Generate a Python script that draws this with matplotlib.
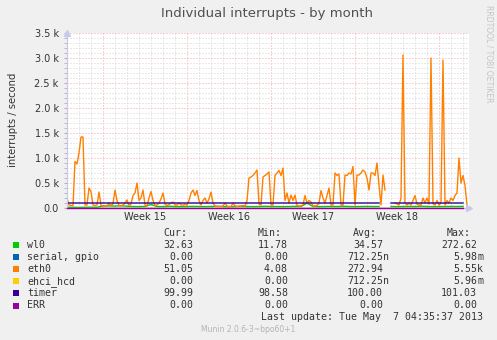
import numpy as np
import matplotlib
matplotlib.use("Agg")
from matplotlib import pyplot as plt
from matplotlib.patches import Rectangle

# eth0 interrupts/s, one sample every 4 hours (nan = no data)
eth0 = [200, 60, 50, 50, 930, 880, 1100, 1420, 1420, 60,
        60, 400, 330, 60, 50, 60, 320, 50, 40, 40,
        40, 100, 50, 80, 360, 150, 50, 40, 60, 100,
        160, 50, 80, 250, 300, 500, 150, 200, 360, 60,
        40, 200, 330, 150, 50, 60, 100, 180, 300, 80,
        50, 70, 100, 120, 60, 60, 100, 60, 60, 70,
        60, 150, 300, 360, 250, 350, 150, 60, 150, 200,
        100, 180, 320, 100, 40, 30, 30, 30, 40, 100,
        40, 30, 30, 100, 40, 30, 40, 40, 50, 40,
        150, 600, 620, 650, 700, 760, 80, 60, 620, 650,
        680, 720, 60, 60, 650, 700, 750, 650, 800, 150,
        300, 100, 260, 150, 260, 50, 40, 40, 60, 250,
        100, 150, 120, 40, 40, 50, 100, 350, 200, 100,
        250, 400, 60, 60, 700, 650, 680, 60, 60, 660,
        650, 700, 680, 830, 60, 660, 660, 700, 760, 720,
        600, 360, 700, 700, 650, 900, 450, 60, 660, 360,
        np.nan, np.nan, np.nan, np.nan, 100, 80, 60, 200, 3060, 100,
        60, 100, 60, 150, 250, 80, 60, 60, 200, 100,
        200, 80, 3000, 80, 60, 150, 60, 100, 2960, 60,
        150, 100, 200, 150, 250, 300, 1000, 500, 650, 450,
        60]

# wl0 and timer, one sample every 12 hours
wl0 = [15, 14, 12, 15, 16, 15, 40, 42, 38, 45,
       35, 30, 28, 32, 70, 30, 28, 35, 30, 28,
       30, 32, 30, 28, 30, 35, 30, 25, 30, 32,
       30, 28, 30, 35, 30, 30, 28, 30, 32, 30,
       100, 30, 28, 30, 32, 30, 35, 30, 28, 30,
       32, 30, 30, np.nan, 30, 28, 30, 32, 30, 35,
       30, 28, 30, 30, 32, 30, 33]
timer = [100.2, 99.9, 100.0, 100.1, 99.8, 100.0, 100.1, 100.0, 99.9, 100.2,
         100.0, 99.9, 100.1, 100.0, 100.0, 99.8, 100.1, 100.0, 100.0, 99.9,
         100.1, 100.0, 99.9, 100.0, 100.2, 100.0, 99.9, 100.0, 100.1, 100.0,
         99.9, 100.0, 100.1, 100.0, 100.0, 99.9, 100.0, 100.1, 100.0, 99.9,
         100.0, 100.1, 100.0, 99.9, 100.0, 100.0, 100.1, 100.0, 99.9, 100.0,
         100.1, 100.0, 99.9, np.nan, 100.0, 100.1, 100.0, 99.9, 100.0, 100.0,
         100.1, 100.0, 99.9, 100.0, 100.0, 100.1, 99.99]

weeks = ['Week 15', 'Week 16', 'Week 17', 'Week 18']
week_start = [3, 10, 17, 24, 31]   # days from left edge

names = ['wl0', 'serial, gpio', 'eth0', 'ehci_hcd', 'timer', 'ERR']
colors = ['#00CC00', '#0066B3', '#FF8000', '#FFCC00', '#330099', '#990099']
cur = ['32.63', '0.00', '51.05', '0.00', '99.99', '0.00']
mins = ['11.78', '0.00', '4.08', '0.00', '98.58', '0.00']
avgs = ['34.57', '712.25n', '272.94', '712.25n', '100.00', '0.00']
maxs = ['272.62', '5.98m', '5.55k', '5.96m', '101.03', '0.00']

W, H = 497, 340
fig = plt.figure(figsize=(W / 100, H / 100), dpi=100, facecolor='#F0F0F0')
ax = fig.add_axes([67 / W, 1 - 208 / H, (469 - 67) / W, (208 - 33) / H])
ax.set_facecolor('white')

t_eth = np.arange(len(eth0)) / 6.0
t_half = np.arange(len(wl0)) * 0.5
zeros = np.zeros(len(wl0))

ax.plot(t_half, wl0, color=colors[0], lw=1)
ax.plot(t_half, zeros, color=colors[1], lw=1)
ax.plot(t_eth, eth0, color=colors[2], lw=1)
ax.plot(t_half, zeros, color=colors[3], lw=1)
ax.plot(t_half, timer, color=colors[4], lw=1)
ax.plot(t_half, zeros, color=colors[5], lw=1, clip_on=False, zorder=5)

ax.set_xlim(0, 33.5)
ax.set_ylim(0, 3500)

# grid: gray daily / 100, red weekly / 500
ax.set_xticks(week_start)
ax.set_xticks(np.arange(0, 34), minor=True)
ax.set_yticks(np.arange(0, 3501, 500))
ax.set_yticks(np.arange(0, 3501, 100), minor=True)
ax.grid(which='minor', color='#d4d4d4', lw=0.72, ls=(0, (1, 2)))
ax.grid(which='major', color='#f0a8a8', lw=0.72, ls=(0, (1, 2)))
ax.set_axisbelow(True)

ax.set_xticklabels([])
ax.set_yticklabels(['0.0'] + ['%.1f k' % (v / 1000) for v in range(500, 3501, 500)])
ax.tick_params(axis='y', which='both', length=2, color='#b0b0b0', pad=4,
               labelsize=7, labelcolor='#333333')
ax.tick_params(axis='x', which='both', length=0)
for i, w in enumerate(weeks):
    ax.text((week_start[i] + week_start[i + 1]) / 2, -0.025, w,
            transform=ax.get_xaxis_transform(), ha='center', va='top',
            fontsize=7, color='#333333')

for s in ['top', 'right']:
    ax.spines[s].set_visible(False)
for s in ['left', 'bottom']:
    ax.spines[s].set_color('#c8c8ee')
    ax.spines[s].set_linewidth(0.8)
# axis arrows
ax.plot(1.0, 0, '>', color='#c8c8ee', ms=4, transform=ax.transAxes, clip_on=False)
ax.plot(0, 1.0, '^', color='#c8c8ee', ms=4, transform=ax.transAxes, clip_on=False)

fig.text(267 / W, 1 - 14 / H, 'Individual interrupts - by month',
         ha='center', va='center', fontsize=9.5, color='#505050')
fig.text(13 / W, 1 - 120 / H, 'interrupts / second', rotation=90,
         ha='center', va='center', fontsize=7.2, color='#333333')
fig.text(489 / W, 1 - 5 / H, 'RRDTOOL / TOBI OETIKER', rotation=270,
         ha='center', va='top', fontsize=5.5, color='#c4c4c4')

# legend table
mono = dict(family='DejaVu Sans Mono', fontsize=7.1, color='#333333', va='center')
def px(x, y):
    return x / W, 1 - y / H

for x, h in zip([163, 258, 353, 447], ['Cur:', 'Min:', 'Avg:', 'Max:']):
    fig.text(*px(x, 233), h, ha='left', **mono)

def put_num(x_end, y, s):
    num, suf = (s[:-1], s[-1]) if s[-1].isalpha() else (s, '')
    fig.text(*px(x_end, y), num, ha='right', **mono)
    if suf:
        fig.text(*px(x_end, y), suf, ha='left', **mono)

for i, name in enumerate(names):
    y = 245 + i * 12.1
    fig.patches.append(Rectangle(px(13, y + 3), 6 / W, 6 / H, transform=fig.transFigure,
                                 facecolor=colors[i], edgecolor='none'))
    fig.text(*px(27, y), name, ha='left', **mono)
    put_num(193, y, cur[i])
    put_num(288, y, mins[i])
    put_num(383, y, avgs[i])
    put_num(477, y, maxs[i])

fig.text(*px(483, 317), 'Last update: Tue May  7 04:35:37 2013', ha='right', **mono)
fig.text(*px(248, 329), 'Munin 2.0.6-3~bpo60+1', ha='center', va='center',
         fontsize=5.5, color='#b4b4b4')

fig.savefig('out.png', dpi=100, facecolor=fig.get_facecolor())
